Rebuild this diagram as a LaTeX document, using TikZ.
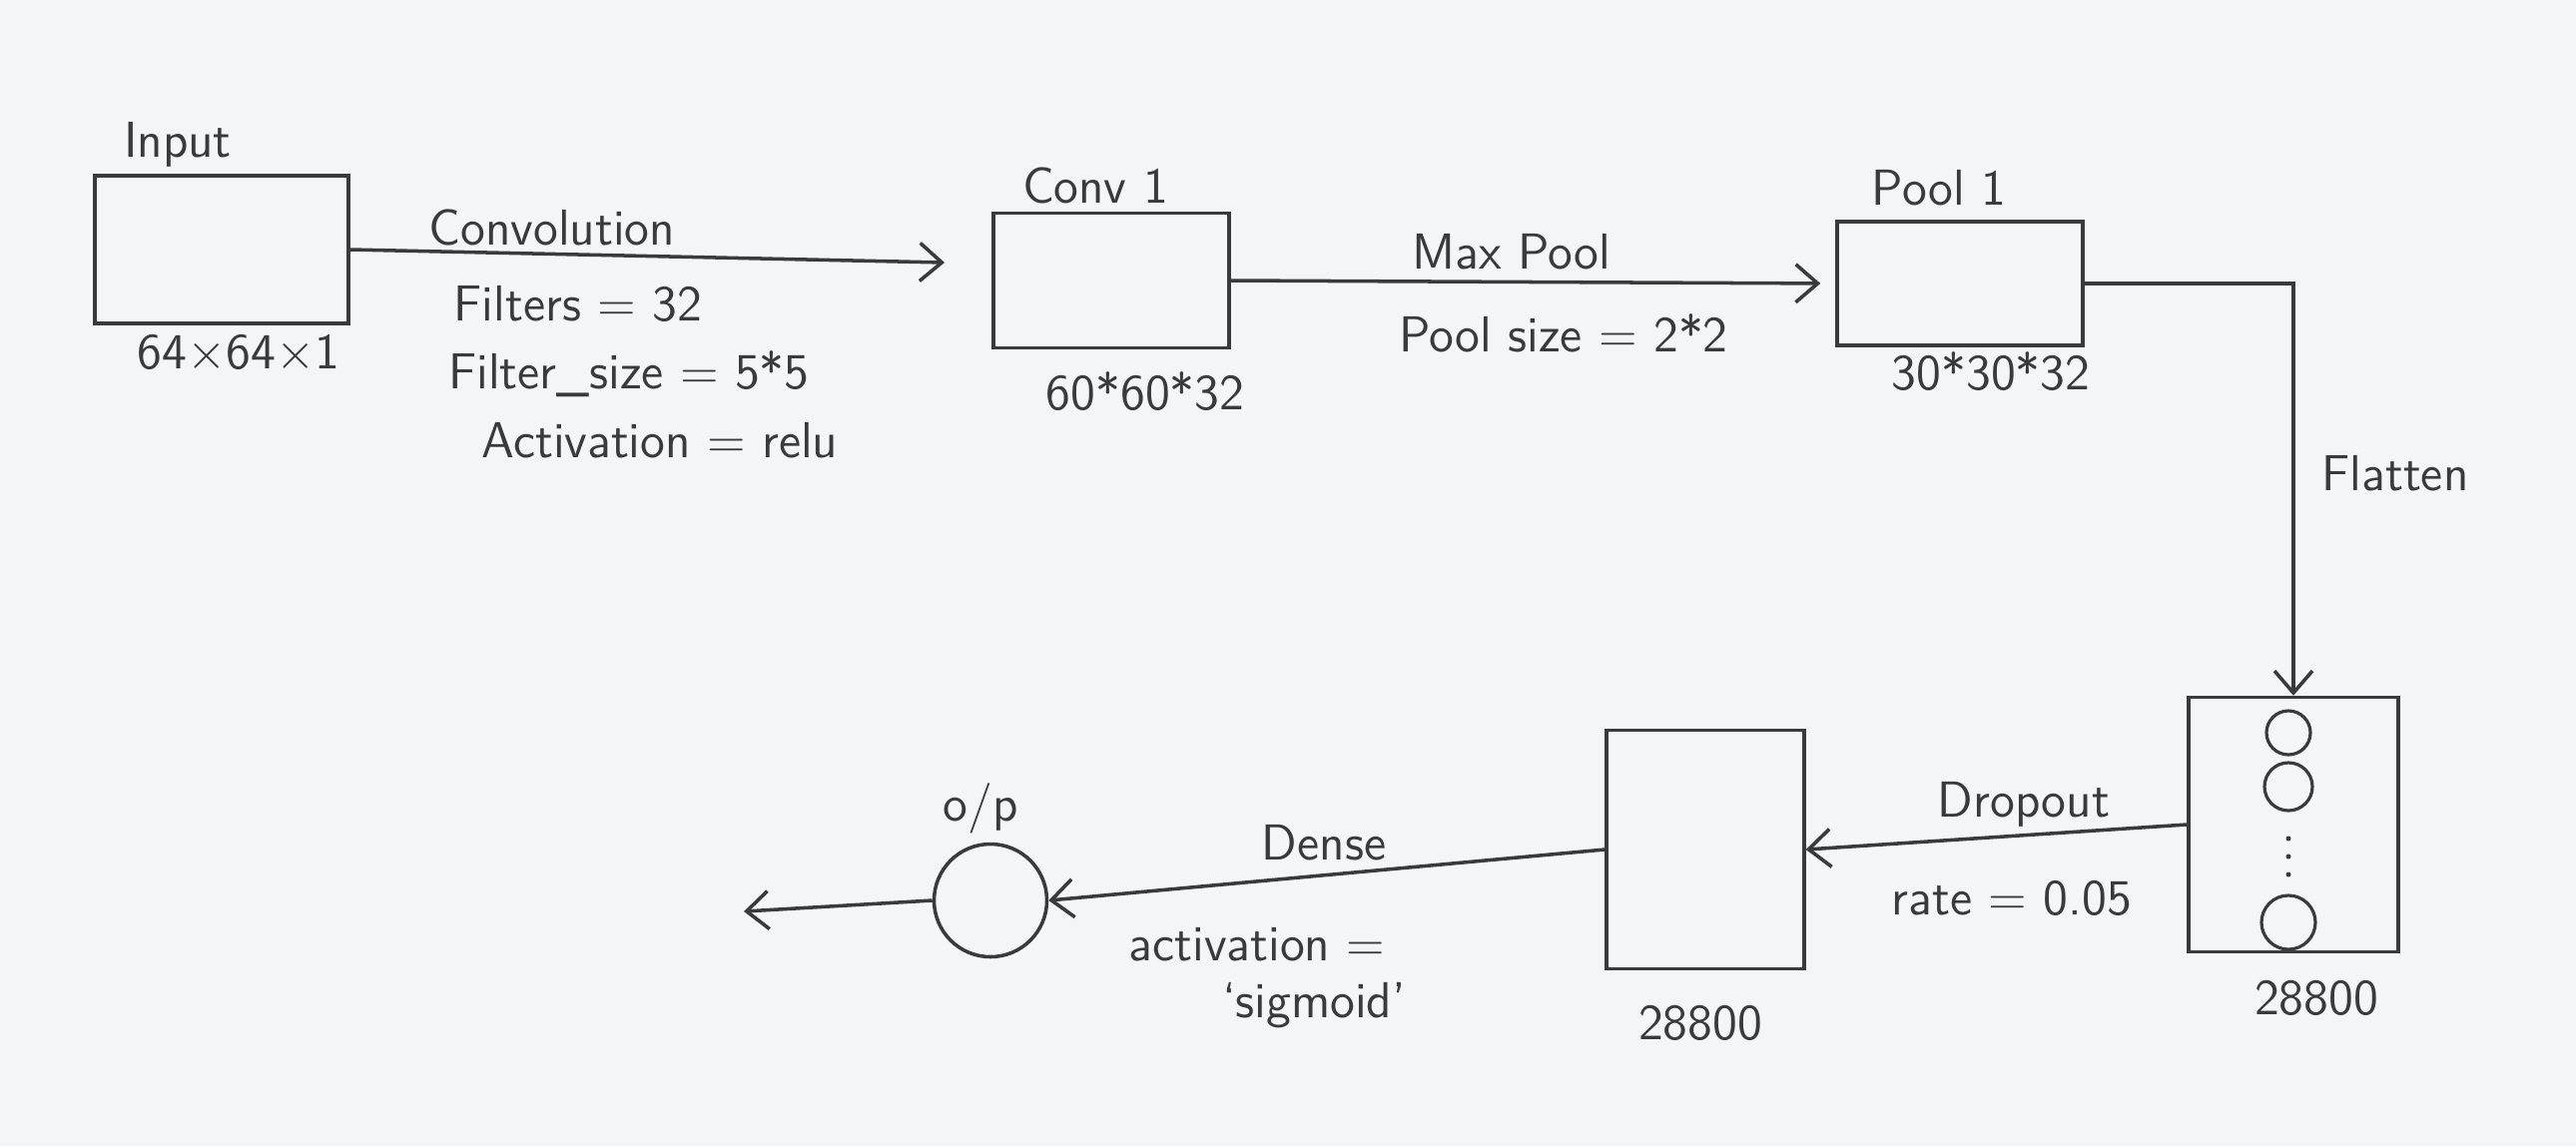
\documentclass[tikz,border=0pt]{standalone}
\usetikzlibrary{positioning,arrows.meta}
\definecolor{pencil}{RGB}{58,58,60}
\definecolor{paper}{RGB}{243,245,247}
\begin{document}
\begin{tikzpicture}[
    layer/.style={draw=pencil, line width=1pt, inner sep=0pt},
    lbl/.style={font=\sffamily\Large, text=pencil},
    flow/.style={draw=pencil, line width=1pt, -{Straight Barb[length=0.22cm, width=0.38cm]}},
    unit/.style={draw=pencil, line width=0.9pt, circle, inner sep=0pt, minimum size=0.42cm},
    dotmark/.style={fill=pencil, circle, inner sep=0pt, minimum size=0.05cm}
  ]
    \fill[paper] (0,0) rectangle (25.8,-11.48);
    \useasboundingbox (0,0) rectangle (25.8,-11.48);
    % boxes
    \node[layer, minimum width=2.54cm, minimum height=1.48cm] (input) at (2.22,-2.50) {};
    \node[layer, minimum width=2.36cm, minimum height=1.35cm] (conv1) at (11.13,-2.81) {};
    \node[layer, minimum width=2.46cm, minimum height=1.24cm] (pool1) at (19.63,-2.84) {};
    \node[layer, minimum width=2.10cm, minimum height=2.55cm] (flat) at (22.97,-8.26) {};
    \node[layer, minimum width=1.98cm, minimum height=2.39cm] (dense) at (17.08,-8.51) {};
    \node[layer, circle, minimum size=1.13cm] (out) at (9.92,-9.02) {};
    \coordinate (convtip) at (9.46,-2.63);
    \coordinate (final) at (7.45,-9.13);
    % units inside the flattened vector
    \node[unit, minimum size=0.44cm] (u1) at (22.92,-7.34) {};
    \node[unit, minimum size=0.48cm] (u2) at (22.92,-7.88) {};
    \node[dotmark] (d1) at (22.92,-8.40) {};
    \node[dotmark] (d2) at (22.92,-8.58) {};
    \node[dotmark] (d3) at (22.92,-8.76) {};
    \node[unit, minimum size=0.54cm] (u3) at (22.92,-9.24) {};
    % labels
    \node[lbl] (inputname) at (1.78,-1.45) {Input};
    \node[lbl] (inputsize) at (2.39,-3.54) {64$\times$64$\times$1};
    \node[lbl] (convname) at (10.97,-1.86) {Conv 1};
    \node[lbl] (convsize) at (11.47,-3.92) {60*60*32};
    \node[lbl] (poolname) at (19.42,-1.88) {Pool 1};
    \node[lbl] (poolsize) at (19.94,-3.72) {30*30*32};
    \node[lbl] (flatsize) at (23.20,-10.00) {28800};
    \node[lbl] (densesize) at (17.03,-10.25) {28800};
    \node[lbl] (outname) at (9.82,-8.10) {o/p};
    \node[lbl] (opconv) at (5.53,-2.28) {Convolution};
    \node[lbl] (opfilters) at (5.79,-3.04) {Filters = 32};
    \node[lbl] (opksize) at (6.30,-3.75) {Filter\_size = 5*5};
    \node[lbl] (opact) at (6.61,-4.41) {Activation = relu};
    \node[lbl] (oppool) at (15.14,-2.52) {Max Pool};
    \node[lbl] (oppsize) at (15.66,-3.34) {Pool size = 2*2};
    \node[lbl] (opflat) at (23.99,-4.74) {Flatten};
    \node[lbl] (opdrop) at (20.27,-8.06) {Dropout};
    \node[lbl] (oprate) at (20.15,-9.00) {rate = 0.05};
    \node[lbl] (opdense) at (13.26,-8.44) {Dense};
    \node[lbl] (opdact) at (12.59,-9.46) {activation =};
    \node[lbl] (opsig) at (13.16,-10.07) {`sigmoid'};
    % connectors
    \draw[flow] (input.east) -- (convtip);
    \draw[flow, shorten >=0.15cm] (conv1.east) -- (pool1.west);
    \draw[flow] (pool1.east) -| (flat.north);
    \draw[flow] (flat.west) -- (dense.east);
    \draw[flow] (dense.west) -- (out.east);
    \draw[flow] (out.west) -- (final);
\end{tikzpicture}
\end{document}
